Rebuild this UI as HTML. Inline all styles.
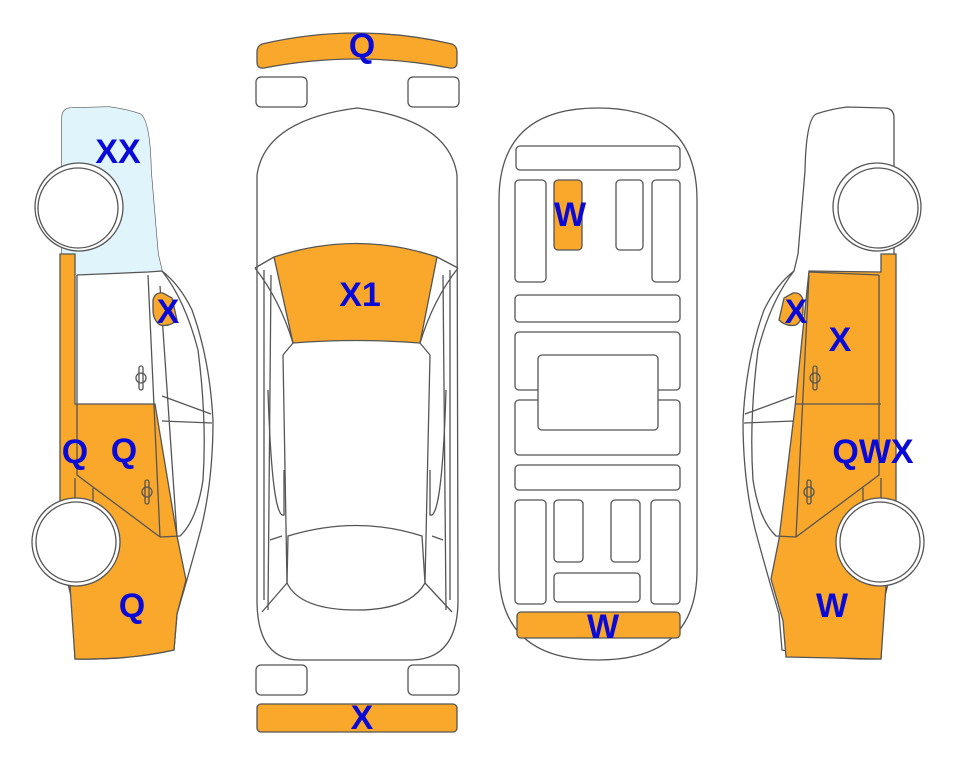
<!DOCTYPE html>
<html><head><meta charset="utf-8"><style>
html,body{margin:0;padding:0;background:#fff;}
svg{display:block;}
text{font-family:"Liberation Sans",sans-serif;font-weight:bold;font-size:34px;fill:#0a0ad8;text-anchor:middle;dominant-baseline:central;}
</style></head><body>
<svg width="963" height="768" viewBox="0 0 963 768" xmlns="http://www.w3.org/2000/svg">
<g stroke="#555" stroke-width="1.3" fill="none">
<g id="lc">
<path d="M62,118 Q62,108 72,108 L109,107 Q125,109 140,114 Q150,120 151,171 L158,254 L162,271 Q180,285 192,310 Q210,360 213,421 Q213,480 201,529 Q190,570 177,614 L174,650 Q130,660 75,659 L72,600 L62,560 Z" fill="#fff"/>
<path d="M62,118 Q62,108 72,108 L109,107 Q125,109 140,114 Q150,120 151,171 L158,254 L162,271 L148,272 L77,275 L62,254 Z" fill="#dff4fb" stroke="none"/>
<path d="M60,254 L75,254 L75,404 L155,404 L177,536 L186,580 L177,614 L174,650 Q130,660 75,659 L70,586 L60,560 Z" fill="#f9a82b"/>
<path d="M77,275 L148,272 L162,271 M77,275 L77,475 L160,537 M148,275 L160,537 M160,286 L177,536 M162,271 Q185,300 198,350 Q207,420 203,480 Q197,520 180,536 L160,537 M162,396 L211,414 M162,421 L212,423 M75,478 L75,500 M93,488 L93,520"/>
<path d="M153,300 Q155,292 163,293 L172,298 L177,320 Q170,327 160,325 Q153,320 153,310 Z" fill="#f9a82b"/>
<rect x="139" y="366" width="4" height="24" rx="2"/><circle cx="141" cy="378" r="5"/>
<rect x="145" y="480" width="4" height="24" rx="2"/><circle cx="147" cy="492" r="5"/>
</g>
<circle cx="79" cy="207" r="44" fill="#fff"/><circle cx="78" cy="208" r="40" fill="#fff"/>
<circle cx="76" cy="542" r="44" fill="#fff"/><circle cx="76" cy="542" r="40" fill="#fff"/>

<g transform="translate(956,0) scale(-1,1)">
<path d="M62,118 Q62,108 72,108 L109,107 Q125,109 140,114 Q150,120 151,171 L158,254 L162,271 Q180,285 192,310 Q210,360 213,421 Q213,480 201,529 Q190,570 177,614 L174,650 Q130,660 75,659 L72,600 L62,560 Z" fill="#fff"/>
<path d="M60,254 L75,254 L75,272 L147,271 L161,407 L177,539 L185,579 L173,621 L170,657 L75,659 L70,586 L60,560 Z" fill="#f9a82b"/>
<path d="M77,275 L147,272 M77,275 L77,475 L160,537 M147,275 L160,537 M75,404 L161,404 M162,271 Q185,300 198,350 Q207,420 203,480 Q197,520 180,536 L160,537 M162,396 L211,414 M162,421 L212,423 M75,478 L75,500 M93,488 L93,520"/>
<path d="M153,300 Q155,292 163,293 L172,298 L177,320 Q170,327 160,325 Q153,320 153,310 Z" fill="#f9a82b"/>
<rect x="139" y="366" width="4" height="24" rx="2"/><circle cx="141" cy="378" r="5"/>
<rect x="145" y="480" width="4" height="24" rx="2"/><circle cx="147" cy="492" r="5"/>
<circle cx="79" cy="207" r="44" fill="#fff"/><circle cx="78" cy="208" r="40" fill="#fff"/>
<circle cx="76" cy="542" r="44" fill="#fff"/><circle cx="76" cy="542" r="40" fill="#fff"/>
</g>

<path d="M262,44 Q357,22 452,44 Q457,46 457,52 L457,62 Q457,69 450,68 Q357,50 264,68 Q257,69 257,62 L257,52 Q257,46 262,44 Z" fill="#f9a82b" stroke-linejoin="round"/>
<rect x="256" y="77" width="51" height="30" rx="5"/>
<rect x="408" y="77" width="51" height="30" rx="5"/>
<path d="M257,175 Q265,120 357,108 Q449,120 457,175 L458,600 Q458,660 410,660 L300,660 Q257,660 257,600 Z" fill="#fff"/>
<path d="M274,257 Q357,230 437,257 L420,343 Q357,338 293,343 Z" fill="#f9a82b"/>
<path d="M255,268 L274,257 M458,268 L437,257 M255,268 Q280,300 293,343 M458,268 Q433,300 420,343 M293,343 L283,355 M420,343 L430,355 M283,355 L287,583 M430,355 L425,583 M264,270 L264,600 M271,275 L268,610 M450,270 L450,600 M443,275 L446,610"/>
<path d="M268,390 Q272,520 284,515 L284,470 M446,390 Q442,520 430,515 L430,470"/>
<path d="M288,536 Q357,515 422,536 L425,583 Q410,610 357,610 Q300,610 287,583 Z"/>
<path d="M287,583 L262,612 M425,583 L452,612 M270,540 L282,536 M443,540 L432,536"/>
<rect x="256" y="665" width="51" height="30" rx="5"/>
<rect x="408" y="665" width="51" height="30" rx="5"/>
<rect x="257" y="704" width="200" height="28" rx="4" fill="#f9a82b"/>

<path d="M499,200 Q499,108 598,108 Q697,108 697,200 L697,570 Q697,660 598,660 Q499,660 499,570 Z" fill="#fff"/>
<rect x="516" y="146" width="164" height="24" rx="4"/>
<rect x="515" y="180" width="31" height="102" rx="4"/>
<rect x="554" y="180" width="28" height="70" rx="4" fill="#f9a82b"/>
<rect x="616" y="180" width="27" height="70" rx="4"/>
<rect x="652" y="180" width="28" height="102" rx="4"/>
<rect x="515" y="295" width="165" height="27" rx="4"/>
<rect x="515" y="332" width="165" height="58" rx="4"/>
<rect x="515" y="400" width="165" height="55" rx="4"/>
<rect x="538" y="355" width="120" height="75" rx="4" fill="#fff"/>
<rect x="515" y="465" width="165" height="25" rx="4"/>
<rect x="515" y="500" width="31" height="104" rx="4"/>
<rect x="554" y="500" width="29" height="62" rx="4"/>
<rect x="611" y="500" width="29" height="62" rx="4"/>
<rect x="651" y="500" width="29" height="104" rx="4"/>
<rect x="554" y="573" width="86" height="29" rx="4"/>
<rect x="517" y="612" width="163" height="26" rx="4" fill="#f9a82b"/>
</g>

<text x="362" y="46">Q</text>
<text x="118" y="152">XX</text>
<text x="168" y="312">X</text>
<text x="75" y="452">Q</text>
<text x="124" y="451">Q</text>
<text x="132" y="606">Q</text>
<text x="360" y="295">X1</text>
<text x="570" y="215">W</text>
<text x="603" y="627">W</text>
<text x="362" y="718">X</text>
<text x="796" y="312">X</text>
<text x="840" y="340">X</text>
<text x="873" y="452">QWX</text>
<text x="832" y="606">W</text>
</svg>
</body></html>
